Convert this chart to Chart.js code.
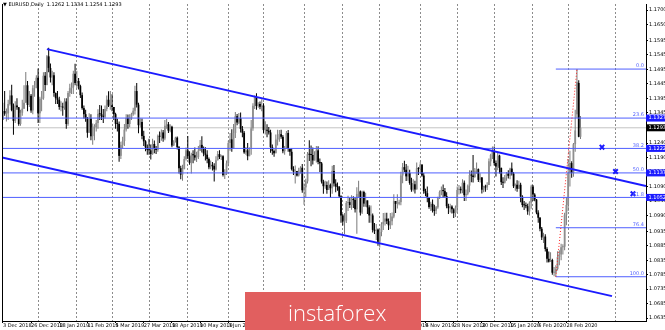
<!DOCTYPE html>
<html><head><meta charset="utf-8">
<script src="https://cdn.jsdelivr.net/npm/chart.js@4/dist/chart.umd.min.js"></script>
<style>html,body{margin:0;padding:0;background:#fff;}canvas{display:block;}</style>
</head><body>
<canvas id="c" width="665" height="330" style="width:665px;height:330px"></canvas>
<script>
// ---- EURUSD Daily candles, 3 Dec 2018 .. 11 Mar 2020 (one value per trading day) ----
const opens = [
1.1320,1.1351,1.1342,1.1343,1.1375,1.1405,1.1354,1.1317,1.1370,1.1364,1.1306,1.1345,1.1359,1.1380,1.1440,1.1372,1.1404,1.1353,1.1430,1.1441,
1.1466,1.1343,1.1393,1.1395,1.1473,1.1441,1.1540,1.1500,1.1467,1.1475,1.1413,1.1395,1.1390,1.1365,1.1365,1.1363,1.1384,1.1306,1.1413,1.1430,1.1433,1.1480,
1.1448,1.1455,1.1437,1.1406,1.1361,1.1340,1.1325,1.1276,1.1325,1.1264,1.1295,1.1295,1.1310,1.1341,1.1340,1.1334,1.1331,1.1358,1.1390,1.1370,
1.1371,1.1365,1.1340,1.1307,1.1306,1.1196,1.1234,1.1247,1.1287,1.1327,1.1306,1.1326,1.1340,1.1352,1.1420,1.1373,1.1302,1.1313,1.1265,1.1246,1.1225,
1.1217,1.1215,1.1202,1.1237,1.1223,1.1216,1.1265,1.1262,1.1277,1.1256,1.1300,1.1305,1.1283,1.1297,1.1232,1.1245,1.1259,1.1226,1.1153,1.1131,1.1150,1.1185,
1.1215,1.1195,1.1172,1.1200,1.1198,1.1190,1.1192,1.1214,1.1234,1.1221,1.1204,1.1200,1.1185,1.1157,1.1165,1.1161,1.1149,1.1181,1.1202,1.1192,1.1195,1.1130,1.1133,
1.1170,1.1240,1.1253,1.1221,1.1275,1.1333,1.1311,1.1326,1.1289,1.1276,1.1208,1.1215,1.1195,1.1224,1.1291,1.1369,1.1399,1.1368,1.1375,1.1366,
1.1370,1.1285,1.1285,1.1283,1.1277,1.1226,1.1213,1.1205,1.1252,1.1254,1.1271,1.1262,1.1212,1.1225,1.1275,1.1220,1.1210,1.1150,1.1142,1.1144,1.1128,1.1146,1.1155,
1.1077,1.1087,1.1108,1.1202,1.1200,1.1199,1.1180,1.1198,1.1215,1.1175,1.1170,1.1107,1.1091,1.1095,1.1078,1.1096,1.1084,1.1144,1.1100,1.1090,1.1088,1.1056,
1.0990,1.0969,1.0972,1.1033,1.1036,1.1026,1.1047,1.1043,1.1011,1.1064,1.1073,1.1000,1.1071,1.1031,1.1042,1.1018,1.0990,1.0990,1.0940,1.0937,1.0941,
1.0899,1.0933,1.0960,1.0968,1.0979,1.0970,1.0956,1.0970,1.0986,1.1040,1.1030,1.1030,1.1036,1.1128,1.1157,1.1148,1.1125,1.1137,1.1102,1.1079,1.1098,1.1080,1.1153,
1.1151,1.1166,1.1128,1.1074,1.1067,1.1050,1.1019,1.1030,1.1007,1.1006,1.1018,1.1052,1.1071,1.1078,1.1074,1.1057,1.1022,1.1015,1.1021,1.1011,1.0998,
1.1017,1.1078,1.1082,1.1077,1.1103,1.1060,1.1065,1.1093,1.1130,1.1128,1.1123,1.1144,1.1150,1.1113,1.1121,1.1079,1.1089,1.1087,1.1095,1.1177,1.1199,
1.1213,1.1171,1.1159,1.1197,1.1154,1.1105,1.1103,1.1121,1.1135,1.1127,1.1152,1.1135,1.1091,1.1096,1.1082,1.1096,1.1055,1.1026,1.1025,1.1022,1.1004,1.1034,
1.1090,1.1062,1.1045,1.1000,1.0982,1.0944,1.0914,1.0917,1.0874,1.0840,1.0830,1.0836,1.0792,1.0792,1.0805,1.0846,1.0855,1.0880,1.0882,1.0992,
1.1026,1.1137,1.1171,1.1137,1.1236,1.1340,1.1448,1.1262];
const highs = [
1.1380,1.1420,1.1360,1.1390,1.1423,1.1442,1.1377,1.1385,1.1395,1.1365,1.1355,1.1390,1.1440,1.1486,1.1455,1.1420,1.1410,1.1440,1.1455,1.1475,
1.1498,1.1400,1.1420,1.1485,1.1486,1.1545,1.1570,1.1515,1.1490,1.1485,1.1415,1.1420,1.1400,1.1385,1.1380,1.1395,1.1395,1.1420,1.1445,1.1450,1.1490,1.1514,
1.1490,1.1465,1.1442,1.1415,1.1370,1.1355,1.1330,1.1343,1.1340,1.1308,1.1305,1.1320,1.1357,1.1372,1.1370,1.1358,1.1370,1.1405,1.1419,1.1420,
1.1409,1.1365,1.1345,1.1324,1.1315,1.1245,1.1262,1.1306,1.1340,1.1339,1.1340,1.1345,1.1362,1.1438,1.1448,1.1380,1.1326,1.1325,1.1283,1.1250,1.1235,
1.1255,1.1235,1.1255,1.1249,1.1230,1.1270,1.1280,1.1287,1.1285,1.1320,1.1323,1.1313,1.1305,1.1300,1.1250,1.1262,1.1263,1.1230,1.1162,1.1165,1.1195,1.1225,
1.1265,1.1212,1.1207,1.1215,1.1225,1.1210,1.1230,1.1251,1.1264,1.1228,1.1226,1.1215,1.1190,1.1180,1.1175,1.1170,1.1195,1.1213,1.1215,1.1200,1.1198,1.1150,1.1180,
1.1248,1.1275,1.1288,1.1306,1.1348,1.1341,1.1344,1.1346,1.1299,1.1282,1.1227,1.1240,1.1225,1.1320,1.1378,1.1405,1.1412,1.1381,1.1384,1.1392,
1.1378,1.1316,1.1305,1.1296,1.1286,1.1235,1.1218,1.1270,1.1286,1.1285,1.1286,1.1268,1.1230,1.1282,1.1285,1.1220,1.1222,1.1160,1.1163,1.1141,1.1155,1.1160,1.1168,
1.1100,1.1117,1.1209,1.1250,1.1232,1.1225,1.1212,1.1230,1.1229,1.1187,1.1175,1.1113,1.1110,1.1107,1.1112,1.1100,1.1162,1.1164,1.1115,1.1104,1.1092,1.1060,
1.0995,1.0998,1.1040,1.1058,1.1050,1.1060,1.1056,1.1050,1.1087,1.1110,1.1076,1.1075,1.1075,1.1068,1.1036,1.1025,1.1024,1.0997,1.0964,1.0960,1.0945,
1.0943,1.0966,1.0998,1.0999,1.0999,1.0979,1.0998,1.1000,1.1063,1.1040,1.1063,1.1044,1.1141,1.1171,1.1179,1.1168,1.1162,1.1148,1.1120,1.1115,1.1110,1.1173,1.1157,
1.1176,1.1165,1.1137,1.1082,1.1090,1.1052,1.1037,1.1045,1.1027,1.1023,1.1055,1.1076,1.1090,1.1097,1.1085,1.1070,1.1030,1.1030,1.1025,1.1015,1.1024,
1.1090,1.1095,1.1090,1.1115,1.1111,1.1080,1.1097,1.1146,1.1145,1.1199,1.1154,1.1173,1.1152,1.1136,1.1123,1.1093,1.1096,1.1105,1.1187,1.1203,1.1228,
1.1228,1.1180,1.1206,1.1200,1.1156,1.1122,1.1130,1.1140,1.1146,1.1155,1.1173,1.1140,1.1100,1.1112,1.1110,1.1103,1.1060,1.1040,1.1035,1.1030,1.1039,1.1096,
1.1095,1.1067,1.1047,1.1008,1.0985,1.0950,1.0930,1.0925,1.0880,1.0865,1.0863,1.0840,1.0812,1.0818,1.0866,1.0870,1.0892,1.0890,1.0999,1.1053,
1.1185,1.1214,1.1177,1.1240,1.1355,1.1496,1.1457,1.1334];
const lows = [
1.1320,1.1335,1.1315,1.1320,1.1370,1.1350,1.1269,1.1310,1.1355,1.1300,1.1300,1.1335,1.1365,1.1385,1.1350,1.1365,1.1345,1.1340,1.1400,1.1430,
1.1310,1.1310,1.1350,1.1390,1.1420,1.1440,1.1485,1.1450,1.1440,1.1400,1.1375,1.1375,1.1355,1.1350,1.1335,1.1355,1.1290,1.1300,1.1400,1.1410,1.1410,1.1440,
1.1430,1.1425,1.1396,1.1355,1.1325,1.1314,1.1259,1.1276,1.1250,1.1234,1.1250,1.1280,1.1290,1.1320,1.1320,1.1310,1.1325,1.1350,1.1365,1.1355,
1.1350,1.1320,1.1290,1.1280,1.1176,1.1185,1.1222,1.1230,1.1280,1.1290,1.1295,1.1320,1.1335,1.1339,1.1363,1.1274,1.1294,1.1253,1.1230,1.1212,1.1200,
1.1200,1.1183,1.1200,1.1205,1.1202,1.1210,1.1240,1.1248,1.1245,1.1250,1.1290,1.1275,1.1278,1.1226,1.1230,1.1242,1.1218,1.1135,1.1115,1.1110,1.1152,1.1180,
1.1185,1.1165,1.1135,1.1170,1.1180,1.1175,1.1185,1.1213,1.1208,1.1195,1.1180,1.1170,1.1150,1.1150,1.1145,1.1107,1.1145,1.1180,1.1185,1.1182,1.1125,1.1116,1.1130,
1.1160,1.1214,1.1210,1.1220,1.1258,1.1302,1.1306,1.1277,1.1260,1.1203,1.1200,1.1181,1.1195,1.1200,1.1283,1.1358,1.1355,1.1362,1.1357,1.1350,
1.1275,1.1270,1.1260,1.1270,1.1207,1.1200,1.1193,1.1205,1.1232,1.1245,1.1255,1.1205,1.1200,1.1220,1.1210,1.1196,1.1145,1.1130,1.1100,1.1125,1.1125,1.1135,1.1068,
1.1027,1.1052,1.1100,1.1178,1.1160,1.1166,1.1185,1.1173,1.1167,1.1140,1.1100,1.1065,1.1082,1.1065,1.1080,1.1050,1.1065,1.1090,1.1070,1.1075,1.1050,1.0965,
1.0955,1.0926,1.0964,1.1005,1.1016,1.1010,1.1016,1.1000,1.0927,1.1052,1.0990,1.0995,1.1020,1.1020,1.0995,1.0965,1.0965,1.0931,1.0926,1.0905,1.0885,
1.0879,1.0918,1.0940,1.0955,1.0960,1.0940,1.0943,1.0956,1.0980,1.0998,1.1014,1.1025,1.1025,1.1101,1.1140,1.1109,1.1110,1.1096,1.1072,1.1073,1.1066,1.1088,1.1130,
1.1139,1.1124,1.1065,1.1056,1.1036,1.1013,1.1005,1.1000,1.0989,1.0995,1.1013,1.1047,1.1060,1.1050,1.1050,1.1015,1.0995,1.1000,1.0997,1.0981,1.0985,
1.1000,1.1062,1.1066,1.1067,1.1040,1.1040,1.1060,1.1070,1.1105,1.1104,1.1120,1.1134,1.1106,1.1104,1.1066,1.1070,1.1072,1.1078,1.1095,1.1160,1.1185,
1.1163,1.1125,1.1146,1.1135,1.1095,1.1085,1.1100,1.1110,1.1118,1.1115,1.1128,1.1085,1.1075,1.1072,1.1085,1.1036,1.1018,1.1009,1.1015,1.0992,1.0990,1.1013,
1.1040,1.1039,1.0994,1.0965,1.0935,1.0905,1.0895,1.0865,1.0827,1.0827,1.0830,1.0785,1.0780,1.0778,1.0800,1.0818,1.0835,1.0855,1.0870,1.0956,
1.1005,1.1090,1.1120,1.1124,1.1210,1.1327,1.1260,1.1254];
const closes = [
1.1351,1.1342,1.1343,1.1375,1.1405,1.1354,1.1317,1.1370,1.1364,1.1306,1.1345,1.1359,1.1380,1.1440,1.1372,1.1404,1.1353,1.1430,1.1441,1.1466,
1.1343,1.1393,1.1395,1.1473,1.1441,1.1540,1.1500,1.1467,1.1475,1.1413,1.1395,1.1390,1.1365,1.1365,1.1363,1.1384,1.1306,1.1413,1.1430,1.1433,1.1480,1.1448,
1.1455,1.1437,1.1406,1.1361,1.1340,1.1325,1.1276,1.1325,1.1264,1.1295,1.1295,1.1310,1.1341,1.1340,1.1334,1.1331,1.1358,1.1390,1.1370,1.1371,
1.1365,1.1340,1.1307,1.1306,1.1196,1.1234,1.1247,1.1287,1.1327,1.1306,1.1326,1.1340,1.1352,1.1420,1.1373,1.1302,1.1313,1.1265,1.1246,1.1225,1.1217,
1.1215,1.1202,1.1237,1.1223,1.1216,1.1265,1.1262,1.1277,1.1256,1.1300,1.1305,1.1283,1.1297,1.1232,1.1245,1.1259,1.1226,1.1153,1.1131,1.1150,1.1185,1.1215,
1.1195,1.1172,1.1200,1.1198,1.1190,1.1192,1.1214,1.1234,1.1221,1.1204,1.1200,1.1185,1.1157,1.1165,1.1161,1.1149,1.1181,1.1202,1.1192,1.1195,1.1130,1.1133,1.1170,
1.1240,1.1253,1.1221,1.1275,1.1333,1.1311,1.1326,1.1289,1.1276,1.1208,1.1215,1.1195,1.1224,1.1291,1.1369,1.1399,1.1368,1.1375,1.1366,1.1370,
1.1285,1.1285,1.1283,1.1277,1.1226,1.1213,1.1205,1.1252,1.1254,1.1271,1.1262,1.1212,1.1225,1.1275,1.1220,1.1210,1.1150,1.1142,1.1144,1.1128,1.1146,1.1155,1.1077,
1.1087,1.1108,1.1202,1.1200,1.1199,1.1180,1.1198,1.1215,1.1175,1.1170,1.1107,1.1091,1.1095,1.1078,1.1096,1.1084,1.1144,1.1100,1.1090,1.1088,1.1056,1.0990,
1.0969,1.0972,1.1033,1.1036,1.1026,1.1047,1.1043,1.1011,1.1064,1.1073,1.1000,1.1071,1.1031,1.1042,1.1018,1.0990,1.0990,1.0940,1.0937,1.0941,1.0899,
1.0933,1.0960,1.0968,1.0979,1.0970,1.0956,1.0970,1.0986,1.1040,1.1030,1.1030,1.1036,1.1128,1.1157,1.1148,1.1125,1.1137,1.1102,1.1079,1.1098,1.1080,1.1153,1.1151,
1.1166,1.1128,1.1074,1.1067,1.1050,1.1019,1.1030,1.1007,1.1006,1.1018,1.1052,1.1071,1.1078,1.1074,1.1057,1.1022,1.1015,1.1021,1.1011,1.0998,1.1017,
1.1078,1.1082,1.1077,1.1103,1.1060,1.1065,1.1093,1.1130,1.1128,1.1123,1.1144,1.1150,1.1113,1.1121,1.1079,1.1089,1.1087,1.1095,1.1177,1.1199,1.1213,
1.1171,1.1159,1.1197,1.1154,1.1105,1.1103,1.1121,1.1135,1.1127,1.1152,1.1135,1.1091,1.1096,1.1082,1.1096,1.1055,1.1026,1.1025,1.1022,1.1004,1.1034,1.1090,
1.1062,1.1045,1.1000,1.0982,1.0944,1.0914,1.0917,1.0874,1.0840,1.0830,1.0836,1.0792,1.0792,1.0805,1.0846,1.0855,1.0880,1.0882,1.0992,1.1026,
1.1137,1.1171,1.1137,1.1236,1.1284,1.1451,1.1262,1.1293];

// ---- axis labels ----
const dateTickBars = [0,16,32,48,64,80,96,112,128,144,160,176,192,208,224,240,256,272,288,304,320];
const dateTickLabels = ["3 Dec 2018","26 Dec 2018","18 Jan 2019","11 Feb 2019","5 Mar 2019","27 Mar 2019","18 Apr 2019","10 May 2019","3 Jun 2019","25 Jun 2019","17 Jul 2019","8 Aug 2019","30 Aug 2019","23 Sep 2019","15 Oct 2019","6 Nov 2019","28 Nov 2019","20 Dec 2019","15 Jan 2020","6 Feb 2020","28 Feb 2020"];
const gridBars = [20,42,62,83,105,128,148,171,193,214,237,258,279,301,321,348];
const priceTicks = [1.1700,1.1650,1.1595,1.1545,1.1495,1.1445,1.1395,1.1345,1.1295,1.1240,1.1190,1.1140,1.1090,1.1040,1.0990,1.0935,1.0885,1.0835,1.0785,1.0735,1.0685,1.0635];

// ---- analysis objects ----
const currentPrice = 1.1293;
const fibLow = 1.0778, fibLowBar = 314;
const fibHigh = 1.1496, fibHighBar = 326;
const fibRatios = [0.0, 23.6, 38.2, 50.0, 61.8, 76.4, 100.0];
const fibFullWidth = [false, true, true, true, true, false, false];
const fibPriceBoxes = [false, true, true, true, true, false, false];
const upperChannel = [{x: 25, y: 1.1565}, {x: 365.2, y: 1.1092}];
const lowerChannel = [{x: -0.5, y: 1.1190}, {x: 345.9, y: 1.0711}];
const crossMarks = [{x: 340.2, y: 1.1226}, {x: 347.9, y: 1.1142}, {x: 357.8, y: 1.1065}];

const xMin = -0.5, xMax = 365.2, yMin = 1.0625, yMax = 1.1721;
const BLUE = '#1b1bff', FIBBLUE = '#4f5fff';
const BULL = '#8e8e8e', BEAR = '#000000';

const idx = closes.map((_, i) => i);
const isBull = i => closes[i] >= opens[i];
const fibLevel = r => fibHigh - (fibHigh - fibLow) * r / 100;

const datasets = [];
datasets.push({type: 'line', xAxisID: 'x', data: [{x: xMin, y: currentPrice}, {x: xMax, y: currentPrice}],
  borderColor: '#c4c4c4', borderWidth: 1, pointRadius: 0, order: 30});
datasets.push({type: 'bar', xAxisID: 'x', grouped: false, order: 21,
  data: idx.map(i => ({x: i, y: [Math.min(lows[i], opens[i], closes[i]), Math.max(highs[i], opens[i], closes[i])]})),
  backgroundColor: c => isBull(c.dataIndex) ? '#7a7a7a' : BEAR, borderWidth: 0, barThickness: 1, inflateAmount: 0});
datasets.push({type: 'bar', xAxisID: 'x', grouped: false, order: 20,
  data: idx.map(i => ({x: i, y: [opens[i], closes[i]]})),
  backgroundColor: c => isBull(c.dataIndex) ? BULL : BEAR, borderWidth: 0, barThickness: 1.8, minBarLength: 1, inflateAmount: 0});
fibRatios.forEach((r, k) => {
  const lv = fibLevel(r);
  datasets.push({type: 'line', xAxisID: 'x', data: [{x: fibFullWidth[k] ? xMin : fibLowBar, y: lv}, {x: xMax, y: lv}],
    borderColor: FIBBLUE, borderWidth: 1, pointRadius: 0, order: 5});
});
datasets.push({type: 'line', xAxisID: 'x', data: [{x: fibLowBar, y: fibLow}, {x: fibHighBar, y: fibHigh}],
  borderColor: '#ff2020', borderWidth: 1, borderDash: [1, 2], pointRadius: 0, order: 4});
datasets.push({type: 'line', xAxisID: 'x', data: upperChannel, borderColor: BLUE, borderWidth: 2, pointRadius: 0, order: 3});
datasets.push({type: 'line', xAxisID: 'x', data: lowerChannel, borderColor: BLUE, borderWidth: 2, pointRadius: 0, order: 3});
datasets.push({type: 'scatter', xAxisID: 'x', data: crossMarks, pointStyle: 'crossRot', pointRadius: 3.2,
  borderColor: BLUE, backgroundColor: BLUE, pointBorderWidth: 2, borderWidth: 2, showLine: false, order: 1});

const overlay = {
  id: 'overlay',
  afterDatasetsDraw(chart) {
    const {ctx, chartArea, scales} = chart;
    ctx.save();
    ctx.font = '5px "DejaVu Sans"';
    ctx.fillStyle = FIBBLUE;
    ctx.textAlign = 'right';
    ctx.textBaseline = 'bottom';
    fibRatios.forEach(r => {
      const y = scales.y.getPixelForValue(fibLevel(r));
      ctx.fillText(r.toFixed(1), chartArea.right - 2, y - 0.5);
    });
    ctx.fillStyle = '#000';
    ctx.textAlign = 'left';
    ctx.textBaseline = 'middle';
    const n = closes.length - 1;
    ctx.fillText('\u25BC EURUSD,Daily  ' + opens[n].toFixed(4) + ' ' + highs[n].toFixed(4) + ' ' + lows[n].toFixed(4) + ' ' + closes[n].toFixed(4), 3, 5);
    ctx.strokeStyle = '#000';
    ctx.lineWidth = 1;
    ctx.beginPath();
    ctx.moveTo(chartArea.left + 0.5, chartArea.top);
    ctx.lineTo(chartArea.left + 0.5, chartArea.bottom);
    ctx.stroke();
    ctx.restore();
  },
  afterDraw(chart) {
    const {ctx, chartArea, scales} = chart;
    ctx.save();
    ctx.font = '5px "DejaVu Sans"';
    ctx.textAlign = 'left';
    ctx.textBaseline = 'middle';
    const box = (v, bg) => {
      const y = scales.y.getPixelForValue(v);
      ctx.fillStyle = bg;
      ctx.fillRect(chartArea.right, y - 3.5, 665 - chartArea.right, 7);
      ctx.fillStyle = '#fff';
      ctx.fillText(v.toFixed(4), chartArea.right + 2.5, y);
    };
    fibRatios.forEach((r, k) => { if (fibPriceBoxes[k]) box(fibLevel(r), BLUE); });
    box(currentPrice, '#000');
    ctx.fillStyle = '#e15f5f';
    ctx.fillRect(245, 292, 176, 38);
    ctx.fillStyle = '#fff';
    ctx.font = '300 22px "Open Sans"';
    ctx.textBaseline = 'alphabetic';
    ctx.fillText('instaforex', 288, 321);
    ctx.restore();
  }
};

new Chart(document.getElementById('c'), {
  type: 'bar',
  data: {datasets},
  plugins: [overlay],
  options: {
    responsive: false, animation: false, events: [],
    layout: {autoPadding: false, padding: {left: 2, top: 2, right: 0, bottom: 0}},
    plugins: {legend: {display: false}, tooltip: {enabled: false}},
    scales: {
      x: {
        type: 'linear', position: 'bottom', min: xMin, max: xMax, offset: false,
        afterBuildTicks: ax => { ax.ticks = dateTickBars.map(v => ({value: v})); },
        afterFit: ax => { ax.height = 9; },
        ticks: {callback: (v, i) => dateTickLabels[i], align: 'start', font: {size: 5, family: 'DejaVu Sans'}, color: '#000', padding: 0, maxRotation: 0, autoSkip: false},
        grid: {drawOnChartArea: false, offset: false, tickLength: 2, color: '#000'},
        border: {color: '#000', width: 1}
      },
      xg: {
        type: 'linear', position: 'bottom', min: xMin, max: xMax, offset: false,
        afterBuildTicks: ax => { ax.ticks = gridBars.map(v => ({value: v})); },
        afterFit: ax => { ax.height = 0; },
        ticks: {display: false},
        grid: {drawOnChartArea: true, drawTicks: false, offset: false, color: '#8c8c8c', lineWidth: 1},
        border: {display: false, dash: [2, 2]}
      },
      y: {
        position: 'right', min: yMin, max: yMax,
        afterBuildTicks: ax => { ax.ticks = priceTicks.map(v => ({value: v})); },
        afterFit: ax => { ax.width = 19; },
        ticks: {callback: v => v.toFixed(4), font: {size: 5, family: 'DejaVu Sans'}, color: '#000', padding: 1, autoSkip: false},
        grid: {drawOnChartArea: false, tickLength: 2, color: '#000'},
        border: {color: '#000', width: 1}
      }
    }
  }
});
</script>
</body></html>
